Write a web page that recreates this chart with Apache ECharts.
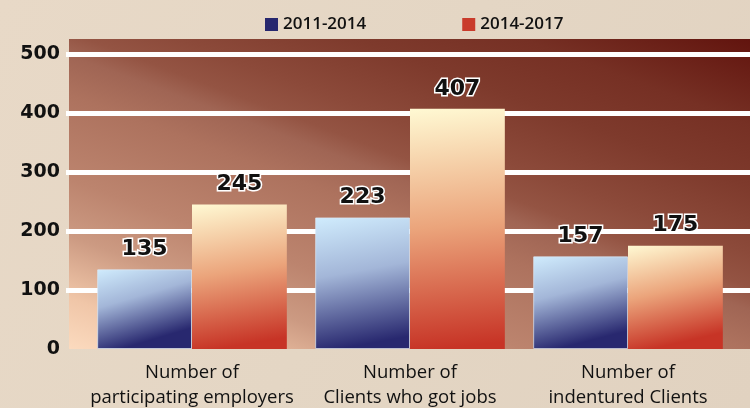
<!DOCTYPE html>
<html>
<head>
<meta charset="utf-8">
<script src="https://cdn.jsdelivr.net/npm/echarts@6/dist/echarts.min.js"></script>
<style>
  html, body { margin: 0; padding: 0; }
  #chart { width: 750px; height: 408px; }
</style>
</head>
<body>
<div id="chart"></div>
<script>
// Program outcome counts for two periods
const categories = ['Number of\nparticipating employers', 'Number of\nClients who got jobs', 'Number of\nindentured Clients'];
const periodA = [135, 223, 157];
const periodB = [245, 407, 175];
const seriesNames = ['2011-2014', '2014-2017'];
const legendColors = ['#27276e', '#c93b2b'];
const yTicks = { min: 0, max: 500, interval: 100 };

const G = echarts.graphic.LinearGradient;
const chart = echarts.init(document.getElementById('chart'), null, { renderer: 'canvas' });

const labelStyle = {
  show: true,
  position: 'top',
  distance: 9,
  fontFamily: 'DejaVu Sans',
  fontWeight: 'bold',
  fontSize: 22,
  color: '#111',
  textBorderColor: '#fff',
  textBorderWidth: 3
};

const plotTop = 54, plotBottom = 59;

// Plot panel: warm glow in the lower left fading to deep maroon at the upper right
const panelFill = new G(317, 441, 502, -53, [
  { offset: 0, color: '#fbdabe' },
  { offset: 0.09, color: '#f0c6a8' },
  { offset: 0.2, color: '#cc9a82' },
  { offset: 0.3, color: '#bc846e' },
  { offset: 0.45, color: '#ad725e' },
  { offset: 0.52, color: '#a06554' },
  { offset: 0.56, color: '#945443' },
  { offset: 0.62, color: '#8c4a3a' },
  { offset: 0.74, color: '#7e3a2c' },
  { offset: 0.85, color: '#763024' },
  { offset: 1, color: '#62140e' }
], true);

chart.setOption({
  animation: false,
  backgroundColor: new G(0, 0, 1, 1, [
    { offset: 0, color: '#e8d9c7' },
    { offset: 0.5, color: '#e4d6c4' },
    { offset: 1, color: '#e1d2c0' }
  ]),
  graphic: [{
    type: 'rect',
    z: -1,
    shape: { x: 69, y: 39, width: 681, height: 310 },
    style: { fill: panelFill }
  }],
  legend: {
    top: 11,
    left: 260,
    itemWidth: 13,
    itemHeight: 13,
    itemGap: 96,
    icon: 'rect',
    textStyle: { fontFamily: 'Open Sans', fontWeight: 600, fontSize: 17, color: '#111' },
    data: seriesNames.map((n, i) => ({ name: n, itemStyle: { color: legendColors[i], borderWidth: 0 } }))
  },
  grid: [
    { left: 83, right: 13, top: plotTop, bottom: plotBottom, outerBoundsMode: 'none', containLabel: false },
    { left: 66, right: 0, top: plotTop, bottom: plotBottom, outerBoundsMode: 'none', containLabel: false }
  ],
  xAxis: [{
    type: 'category',
    gridIndex: 0,
    data: categories,
    axisLine: { show: false },
    axisTick: { show: false },
    axisLabel: {
      fontFamily: 'Open Sans',
      fontSize: 18.5,
      lineHeight: 25,
      color: '#111',
      margin: 11,
      interval: 0
    }
  }, {
    type: 'value',
    gridIndex: 1,
    show: false
  }],
  yAxis: [{
    type: 'value',
    gridIndex: 0,
    min: yTicks.min, max: yTicks.max, interval: yTicks.interval,
    show: false
  }, {
    type: 'value',
    gridIndex: 1,
    min: yTicks.min, max: yTicks.max, interval: yTicks.interval,
    axisLine: { show: false },
    axisTick: { show: false },
    axisLabel: {
      fontFamily: 'DejaVu Sans',
      fontWeight: 'bold',
      fontSize: 19,
      color: '#111',
      margin: 6
    },
    splitLine: {
      lineStyle: {
        width: 5,
        color: ['rgba(0,0,0,0)', '#ffffff', '#ffffff', '#ffffff', '#ffffff', '#ffffff']
      }
    }
  }],
  series: [{
    name: seriesNames[0],
    type: 'bar',
    xAxisIndex: 0,
    yAxisIndex: 0,
    data: periodA,
    barGap: '0%',
    barCategoryGap: '13%',
    z: 3,
    itemStyle: {
      color: new G(0, 0, 0.25, 1, [
        { offset: 0, color: '#d0ecfd' },
        { offset: 0.45, color: '#a3b6d8' },
        { offset: 1, color: '#28286f' }
      ]),
      borderColor: 'rgba(220,232,245,0.7)',
      borderWidth: 1
    },
    label: labelStyle
  }, {
    name: seriesNames[1],
    type: 'bar',
    xAxisIndex: 0,
    yAxisIndex: 0,
    data: periodB,
    z: 3,
    itemStyle: {
      color: new G(0, 0, 0.25, 1, [
        { offset: 0, color: '#fff9d3' },
        { offset: 0.5, color: '#eba47b' },
        { offset: 1, color: '#c73426' }
      ])
    },
    label: labelStyle
  }]
});
</script>
</body>
</html>
